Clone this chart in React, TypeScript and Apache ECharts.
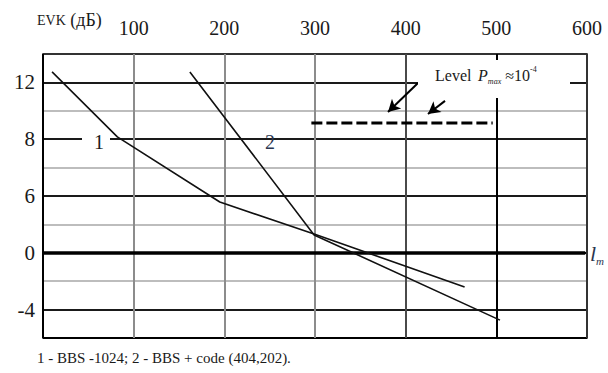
import React, { useEffect, useRef } from "react";
import * as echarts from "echarts";

// x axis (top): distance scale, tick labels
const xTickLabels = ["", "100", "200", "300", "400", "500", "600"];
// y axis: grid units (0 = bottom border, 10 = top border) with printed labels
const yTickLabels = ["", "-4", "", "0", "", "6", "", "8", "", "12", ""];

// curve 1: BBS-1024
const curve1: [number, number][] = [
  [10, 9.37],
  [82, 7.08],
  [195, 4.79],
  [299, 3.66],
  [465, 1.8],
];
// curve 2: BBS + code (404,202)
const curve2: [number, number][] = [
  [162, 9.37],
  [299, 3.63],
  [504, 0.63],
];
// level P_max ≈ 10^-4 (dashed)
const levelLine: [number, number][] = [
  [296, 7.57],
  [496, 7.57],
];
// arrows pointing at the level line [from, to]
const arrows: [[number, number], [number, number]][] = [
  [[413.6, 8.98], [380.5, 7.96]],
  [[443.4, 8.35], [424.6, 7.89]],
];
const zeroLineY = 3;

const SERIF = "Liberation Serif";

export default function App() {
  const ref = useRef<HTMLDivElement>(null);
  useEffect(() => {
    if (!ref.current) return;
    const chart = echarts.init(ref.current, undefined, { renderer: "svg" });
    const option: any = {
      animation: false,
      backgroundColor: "#fff",
      textStyle: { fontFamily: SERIF },
      grid: {
        left: 43,
        top: 54,
        width: 544,
        height: 284,
        show: true,
        borderColor: "#1a1a1a",
        borderWidth: 1.6,
        backgroundColor: "transparent",
      },
      xAxis: {
        type: "value",
        position: "top",
        min: 0,
        max: 600,
        interval: 100,
        axisLine: { show: false },
        axisTick: { show: false },
        axisLabel: {
          margin: 16,
          fontSize: 20,
          fontFamily: SERIF,
          color: "#1a1a1a",
          formatter: (v: number) => xTickLabels[Math.round(v / 100)] ?? "",
        },
        splitLine: {
          show: true,
          lineStyle: {
            width: 2,
            color: ["#000", "#8c8c8c", "#8c8c8c", "#8c8c8c", "#4a4a4a", "#000", "#333"],
          },
        },
      },
      yAxis: {
        type: "value",
        min: 0,
        max: 10,
        interval: 1,
        axisLine: { show: false },
        axisTick: { show: false },
        axisLabel: {
          margin: 8,
          fontSize: 21,
          fontFamily: SERIF,
          color: "#1a1a1a",
          formatter: (v: number) => yTickLabels[Math.round(v)] ?? "",
        },
        splitLine: {
          show: true,
          lineStyle: {
            width: 2,
            color: ["#000", "#1a1a1a", "#bdbdbd", "#000", "#bdbdbd", "#1a1a1a", "#bdbdbd", "#1a1a1a", "#bdbdbd", "#1a1a1a", "#333"],
          },
        },
      },
      series: [
        {
          type: "line",
          data: curve1,
          symbol: "none",
          lineStyle: { color: "#111", width: 1.6 },
          z: 5,
          markLine: {
            silent: true,
            symbol: ["none", "none"],
            label: { show: false },
            lineStyle: { color: "#000", width: 3.5, type: "solid" },
            data: [[{ coord: [0, zeroLineY] }, { coord: [598, zeroLineY] }]],
          },
        },
        {
          type: "line",
          data: curve2,
          symbol: "none",
          lineStyle: { color: "#111", width: 1.6 },
          z: 5,
          markLine: {
            silent: true,
            symbol: ["none", "arrow"],
            symbolSize: [10, 12],
            label: { show: false },
            lineStyle: { color: "#000", width: 2, type: "solid" },
            data: arrows.map(([a, b]) => [{ coord: a }, { coord: b }]),
          },
        },
        {
          type: "line",
          data: levelLine,
          symbol: "none",
          lineStyle: { color: "#000", width: 3, type: [11, 4] },
          z: 5,
        },
      ],
      graphic: [
        {
          type: "rect",
          z: 50,
          shape: { x: 418, y: 60, width: 152, height: 38 },
          style: { fill: "#fff" },
        },
        {
          type: "rect",
          z: 50,
          shape: { x: 82, y: 133, width: 28, height: 14 },
          style: { fill: "#fff" },
        },
        {
          type: "text",
          z: 60,
          x: 435,
          y: 75,
          style: {
            text: "{a|Level}  {p|P}{s|max}{a| ≈10}{e|-4}",
            verticalAlign: "middle",
            fill: "#1a1a1a",
            rich: {
              a: { fontSize: 16, fontFamily: SERIF, fill: "#1a1a1a", lineHeight: 20 },
              p: { fontSize: 16, fontFamily: SERIF, fontStyle: "italic", fill: "#1a1a1a", lineHeight: 20 },
              s: { fontSize: 8, fontFamily: SERIF, fontStyle: "italic", fill: "#1a1a1a", verticalAlign: "bottom", lineHeight: 20 },
              e: { fontSize: 8, fontFamily: SERIF, fill: "#1a1a1a", verticalAlign: "top", lineHeight: 20 },
            },
          },
        },
        {
          type: "text",
          z: 60,
          x: 37,
          y: 20,
          style: {
            text: "{sc|EVK}{d| (дБ)}",
            verticalAlign: "middle",
            rich: {
              sc: { fontSize: 14, fontFamily: SERIF, fill: "#1a1a1a", lineHeight: 22 },
              d: { fontSize: 18, fontFamily: SERIF, fill: "#1a1a1a", lineHeight: 22 },
            },
          },
        },
        {
          type: "text",
          z: 60,
          x: 99,
          y: 142,
          style: { text: "1", fontSize: 20, fontFamily: SERIF, fill: "#1a1a1a", align: "center", verticalAlign: "middle" },
        },
        {
          type: "text",
          z: 60,
          x: 270,
          y: 142,
          style: { text: "2", fontSize: 20, fontFamily: SERIF, fill: "#2a3550", align: "center", verticalAlign: "middle" },
        },
        {
          type: "text",
          z: 60,
          x: 590,
          y: 253,
          style: {
            text: "{l|l}{m|m}",
            verticalAlign: "middle",
            rich: {
              l: { fontSize: 22, fontFamily: SERIF, fontStyle: "italic", fill: "#2a3550", lineHeight: 26 },
              m: { fontSize: 11, fontFamily: SERIF, fontStyle: "italic", fill: "#2a3550", verticalAlign: "bottom", lineHeight: 26 },
            },
          },
        },
        {
          type: "text",
          z: 60,
          x: 37,
          y: 358,
          style: {
            text: "1 - BBS -1024; 2 - BBS + code (404,202).",
            fontSize: 15,
            fontFamily: SERIF,
            fill: "#1a1a1a",
            verticalAlign: "middle",
          },
        },
      ],
    };
    chart.setOption(option);
    return () => chart.dispose();
  }, []);
  return (
    <div
      ref={ref}
      style={{ position: "fixed", left: 0, top: 0, width: 608, height: 373, background: "#fff" }}
    />
  );
}
